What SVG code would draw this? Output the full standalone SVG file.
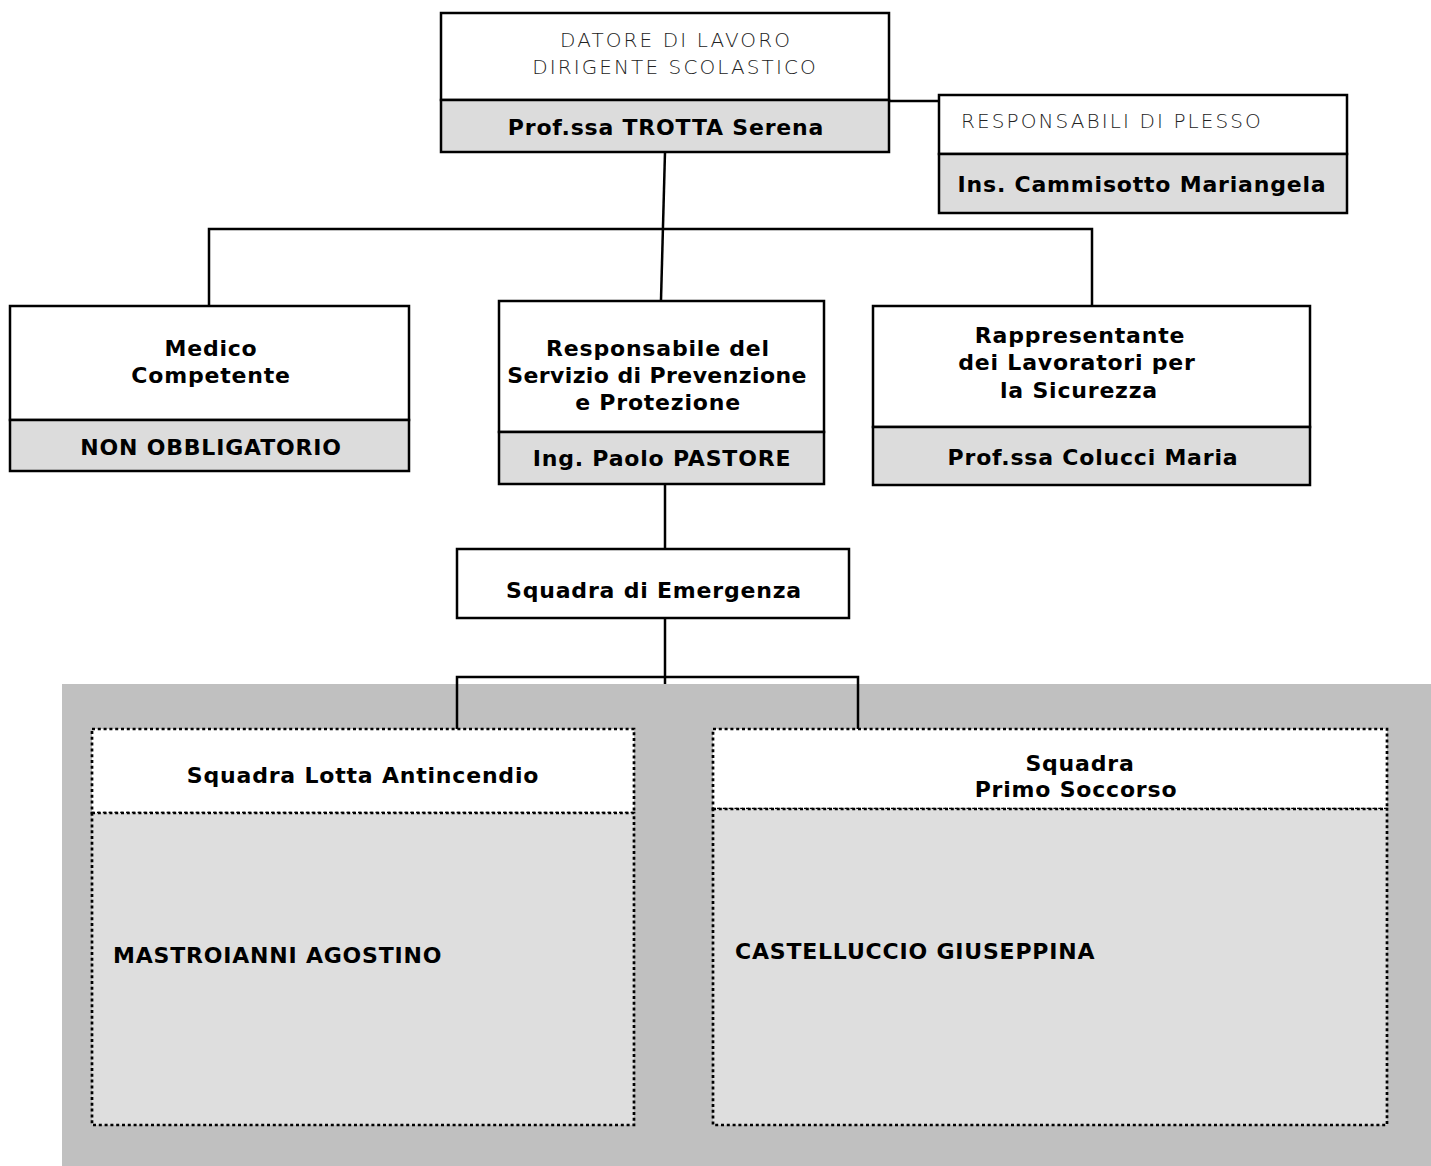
<svg xmlns="http://www.w3.org/2000/svg" width="1431" height="1166" viewBox="0 0 1431 1166">
<style>
.box{fill:#fff;stroke:#000;stroke-width:2.5}
.sub{fill:#dcdcdc;stroke:#000;stroke-width:2.5}
.dbox{fill:#fff;stroke:#000;stroke-width:2.7;stroke-dasharray:3 2.8}
.dsub{fill:#dedede;stroke:#000;stroke-width:2.7;stroke-dasharray:3 2.8}
.b{font-family:"DejaVu Sans",Verdana,sans-serif;font-weight:bold;font-size:22px;letter-spacing:0.8px;fill:#000}
.l{font-family:"DejaVu Sans",Verdana,sans-serif;font-weight:200;font-size:20px;letter-spacing:2.1px;fill:#222}
.c{text-anchor:middle}
.ln{fill:none;stroke:#000;stroke-width:2.5}
</style>
<rect x="62" y="684" width="1369" height="482" fill="#c0c0c0"/>
<g id="connectors">
<path class="ln" d="M889,101 H940"/>
<path class="ln" d="M665,152 L661,300"/>
<path class="ln" d="M209,306 V229 H1092 V306"/>
<path class="ln" d="M665,484 V549"/>
<path class="ln" d="M665,618 V684"/>
<path class="ln" d="M457,729 V677 H858 V729"/>
</g>
<g id="datore">
<rect class="box" x="441" y="13" width="448" height="87"/>
<rect class="sub" x="441" y="100" width="448" height="52"/>
<text class="l c" x="676" y="47">DATORE DI LAVORO</text>
<text class="l c" x="675" y="74">DIRIGENTE SCOLASTICO</text>
<text class="b c" x="666" y="135">Prof.ssa TROTTA Serena</text>
</g>
<g id="responsabili">
<rect class="box" x="939" y="95" width="408" height="59"/>
<rect class="sub" x="939" y="154" width="408" height="59"/>
<text class="l" x="961" y="128">RESPONSABILI DI PLESSO</text>
<text class="b c" x="1142" y="192">Ins. Cammisotto Mariangela</text>
</g>
<g id="medico">
<rect class="box" x="10" y="306" width="399" height="114"/>
<rect class="sub" x="10" y="420" width="399" height="51"/>
<text class="b c" x="211" y="356">Medico</text>
<text class="b c" x="211" y="383">Competente</text>
<text class="b c" x="211" y="455">NON OBBLIGATORIO</text>
</g>
<g id="rspp">
<rect class="box" x="499" y="301" width="325" height="131"/>
<rect class="sub" x="499" y="432" width="325" height="52"/>
<text class="b c" x="658" y="356">Responsabile del</text>
<text class="b c" x="657" y="383" style="letter-spacing:0.4px">Servizio di Prevenzione</text>
<text class="b c" x="658" y="410">e Protezione</text>
<text class="b c" x="662" y="466">Ing. Paolo PASTORE</text>
</g>
<g id="rls">
<rect class="box" x="873" y="306" width="437" height="121"/>
<rect class="sub" x="873" y="427" width="437" height="58"/>
<text class="b c" x="1080" y="343">Rappresentante</text>
<text class="b c" x="1077" y="370">dei Lavoratori per</text>
<text class="b c" x="1079" y="398">la Sicurezza</text>
<text class="b c" x="1093" y="465">Prof.ssa Colucci Maria</text>
</g>
<g id="emergenza">
<rect class="box" x="457" y="549" width="392" height="69"/>
<text class="b c" x="654" y="598">Squadra di Emergenza</text>
</g>
<g id="antincendio">
<rect class="dbox" x="92" y="729" width="542" height="84"/>
<rect class="dsub" x="92" y="813" width="542" height="312"/>
<text class="b c" x="363" y="783">Squadra Lotta Antincendio</text>
<text class="b" x="113" y="963">MASTROIANNI AGOSTINO</text>
</g>
<g id="soccorso">
<rect class="dbox" x="713" y="729" width="674" height="80"/>
<rect class="dsub" x="713" y="809" width="674" height="316"/>
<text class="b c" x="1080" y="771">Squadra</text>
<text class="b c" x="1076" y="797">Primo Soccorso</text>
<text class="b" x="735" y="959">CASTELLUCCIO GIUSEPPINA</text>
</g>
</svg>
